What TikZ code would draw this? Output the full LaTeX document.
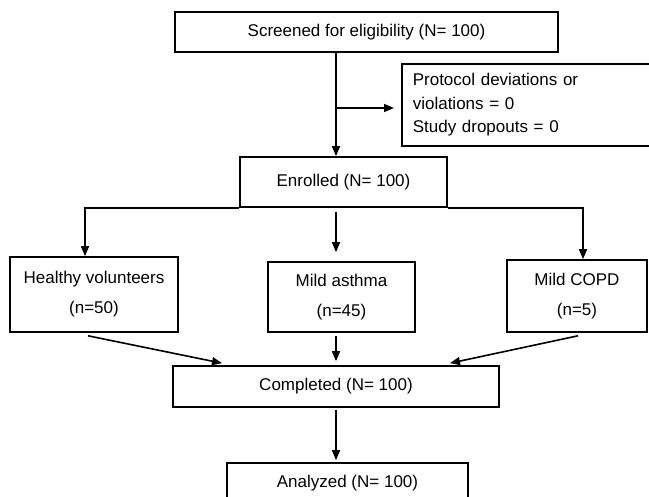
\documentclass[tikz,border=0pt]{standalone}
\usepackage{fontspec}
\setmainfont{Liberation Sans}
\usetikzlibrary{arrows.meta, positioning}

\begin{document}
\begin{tikzpicture}[
    x=1pt, y=-1pt,
    box/.style={rectangle, draw=black, line width=1.6pt, align=center, inner sep=0pt, font=\fontsize{17}{23.5}\selectfont},
    arrow/.style={-{Triangle[length=10pt,width=8pt]}, line width=1.6pt}
]
\useasboundingbox (0,0) rectangle (649,497);

% Main column
\coordinate (spine) at (336,0);
\coordinate (split) at (336,108);

% Nodes
\node (screen) [box, minimum width=383pt, minimum height=40pt] at (366.5,32) {Screened for eligibility (N= 100)};
\node (protocol) [box, anchor=west, text width=240pt, align=left, inner xsep=11pt, minimum height=82pt] at (401,105) {Protocol deviations or\\violations = 0\\Study dropouts = 0};
\node (enroll) [box, minimum width=207pt, minimum height=50pt] at (343.5,182) {Enrolled (N= 100)};

% Groups
\node (healthy) [box, minimum width=168pt, minimum height=75pt] at (94,294.5) {Healthy volunteers\\[6.5pt](n=50)};
\node (asthma) [box, minimum width=147pt, minimum height=70pt] at (341.5,297) {Mild asthma\\[6.5pt](n=45)};
\node (copd) [box, minimum width=140pt, minimum height=72pt] at (577,296) {Mild COPD\\[6.5pt](n=5)};

% Final steps
\node (complete) [box, minimum width=326pt, minimum height=41pt] at (336,386.5) {Completed (N= 100)};
\node (analyzed) [box, minimum width=241pt, minimum height=41pt] at (347.5,483.5) {Analyzed (N= 100)};

% Arrows
\draw[arrow] (screen.south -| spine) -- (enroll.north -| spine);
\draw[arrow] (split) -- ([xshift=-7pt]protocol.west |- split);
\draw[arrow] (enroll.south west) -| ([xshift=-9pt]healthy.north);
\draw[arrow] (enroll.south east) -| ([xshift=6pt]copd.north);
\draw[arrow, shorten <=4pt, shorten >=9pt] (enroll.south -| spine) -- (asthma.north -| spine);
\draw[arrow] ([xshift=-6pt,yshift=-3pt]healthy.south) -- ([xshift=-114pt,yshift=2pt]complete.north);
\draw[arrow, shorten <=3pt, shorten >=4pt] (asthma.south -| spine) -- (complete.north -| spine);
\draw[arrow] ([xshift=1pt,yshift=-3pt]copd.south) -- ([xshift=114pt,yshift=2pt]complete.north);
\draw[arrow, shorten <=2pt, shorten >=2pt] (complete.south -| spine) -- (analyzed.north -| spine);

\end{tikzpicture}
\end{document}
